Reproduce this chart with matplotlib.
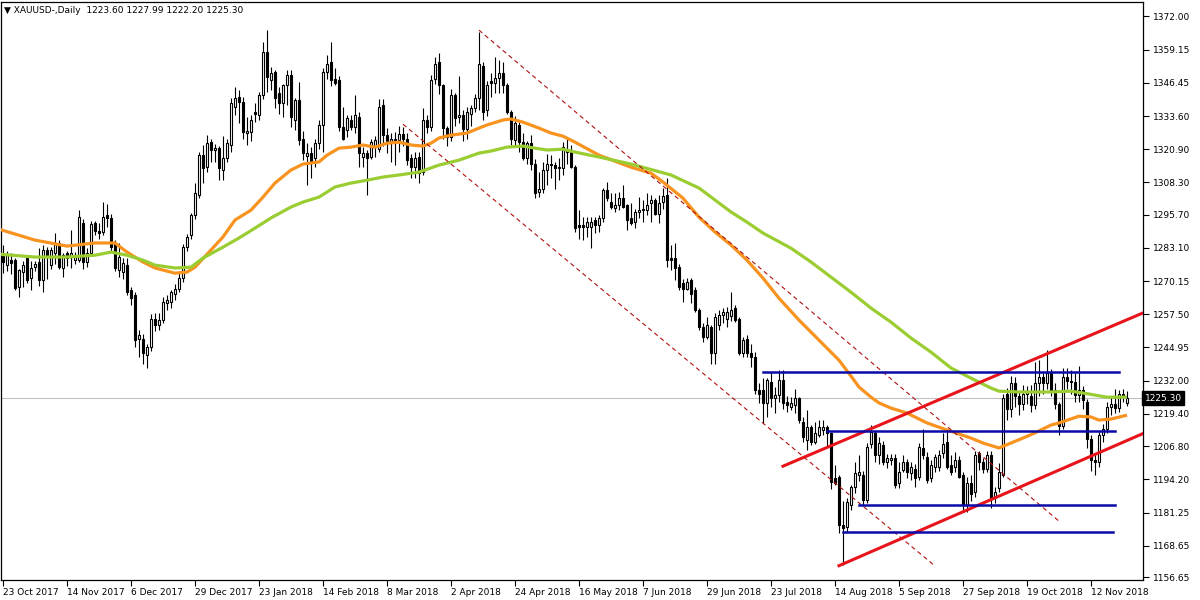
import matplotlib
matplotlib.use("Agg")
import matplotlib.pyplot as plt
import numpy as np

# XAUUSD daily candles, bar 0 = 23 Oct 2017, bar 281 = 23 Nov 2018
opens = [
    1280.0, 1276.4, 1278.3, 1278.3, 1268.1, 1273.8, 1279.0, 1271.3, 1275.5, 1277.5,
    1270.6, 1282.2, 1276.4, 1281.0, 1284.7, 1275.1, 1280.9, 1279.6, 1278.3, 1278.3,
    1292.4, 1277.5, 1281.0, 1292.4, 1289.5, 1289.0, 1295.6, 1294.3, 1284.7, 1274.5,
    1273.8, 1276.4, 1266.8, 1264.9, 1248.2, 1248.2, 1241.8, 1245.0, 1255.9, 1253.4,
    1255.3, 1261.7, 1262.3, 1265.5, 1267.4, 1271.3, 1283.4, 1288.0, 1295.6, 1303.3,
    1318.6, 1314.2, 1323.7, 1320.5, 1321.2, 1312.9, 1317.4, 1322.5, 1337.2, 1341.0,
    1339.1, 1327.0, 1327.6, 1335.3, 1334.0, 1341.7, 1358.3, 1347.4, 1350.6, 1342.3,
    1338.5, 1345.5, 1349.4, 1332.1, 1339.8, 1325.0, 1318.3, 1319.3, 1317.4, 1323.1,
    1330.2, 1350.6, 1354.5, 1348.0, 1347.4, 1329.5, 1328.2, 1332.1, 1329.5, 1333.4,
    1318.0, 1319.3, 1318.0, 1321.8, 1321.0, 1337.8, 1326.3, 1323.5, 1325.0, 1324.4,
    1326.9, 1325.0, 1317.4, 1314.2, 1318.0, 1312.2, 1332.1, 1329.5, 1348.0, 1354.5,
    1345.5, 1328.9, 1325.5, 1341.7, 1333.4, 1334.0, 1328.5, 1334.5, 1336.6, 1340.4,
    1353.0, 1335.9, 1347.0, 1346.2, 1348.1, 1350.0, 1345.5, 1335.3, 1324.4, 1330.2,
    1323.7, 1317.4, 1323.1, 1315.4, 1304.6, 1305.8, 1312.9, 1315.4, 1314.8, 1313.5,
    1313.5, 1319.9, 1319.9, 1314.2, 1291.8, 1291.8, 1291.1, 1291.1, 1293.7, 1291.8,
    1294.3, 1305.2, 1300.7, 1298.2, 1299.4, 1302.0, 1299.4, 1294.3, 1293.0, 1296.9,
    1297.5, 1297.5, 1300.1, 1301.4, 1296.2, 1300.7, 1303.3, 1279.0, 1279.0, 1275.8,
    1269.4, 1267.4, 1270.6, 1266.8, 1259.1, 1252.7, 1248.9, 1252.7, 1242.5, 1253.4,
    1257.2, 1255.9, 1257.0, 1259.8, 1255.9, 1242.5, 1248.2, 1242.5, 1241.2, 1228.4,
    1228.4, 1223.3, 1231.6, 1225.2, 1226.5, 1232.3, 1224.0, 1222.0, 1222.7, 1225.2,
    1216.3, 1209.2, 1214.3, 1208.6, 1211.1, 1213.0, 1214.3, 1211.8, 1194.5, 1195.0,
    1176.6, 1176.0, 1184.3, 1191.3, 1196.0, 1195.8, 1186.2, 1207.9, 1211.8, 1203.5,
    1207.3, 1200.9, 1201.5, 1202.2, 1192.6, 1197.7, 1200.9, 1196.4, 1198.3, 1195.0,
    1206.0, 1202.8, 1194.5, 1199.0, 1199.0, 1204.1, 1208.6, 1199.6, 1199.0, 1201.5,
    1195.8, 1184.3, 1192.6, 1189.4, 1204.1, 1200.9, 1198.3, 1203.5, 1187.5, 1190.7,
    1195.8, 1227.1, 1221.0, 1231.0, 1226.0, 1223.0, 1227.0, 1226.0, 1222.7, 1231.0,
    1233.5, 1231.0, 1235.0, 1228.5, 1223.0, 1214.5, 1233.5, 1232.0, 1231.5, 1226.5,
    1228.5, 1224.0, 1209.5, 1201.5, 1201.0, 1211.0, 1213.5, 1222.0, 1223.0, 1221.5,
    1227.0, 1223.6,
]
highs = [
    1284.1, 1282.0, 1281.0, 1279.0, 1275.0, 1278.0, 1280.0, 1278.0, 1278.0, 1283.0,
    1284.0, 1283.5, 1283.4, 1288.6, 1286.0, 1281.0, 1282.0, 1289.8, 1281.5, 1297.5,
    1294.0, 1283.0, 1293.5, 1293.5, 1292.5, 1300.5, 1300.0, 1296.0, 1286.0, 1285.0,
    1279.0, 1279.0, 1268.0, 1266.0, 1251.4, 1250.0, 1246.0, 1257.5, 1258.0, 1258.0,
    1264.0, 1265.0, 1267.0, 1269.0, 1274.0, 1284.5, 1288.5, 1296.5, 1307.8, 1320.0,
    1322.5, 1326.3, 1325.0, 1323.0, 1322.0, 1326.0, 1325.0, 1340.5, 1344.9, 1343.6,
    1341.0, 1333.4, 1334.0, 1338.5, 1343.0, 1362.1, 1366.6, 1352.5, 1351.5, 1344.9,
    1346.0, 1351.3, 1351.3, 1340.4, 1346.8, 1328.0, 1323.1, 1321.8, 1325.0, 1332.1,
    1352.0, 1357.0, 1362.2, 1351.9, 1349.0, 1337.2, 1334.0, 1334.0, 1341.7, 1335.0,
    1321.8, 1320.5, 1325.0, 1326.0, 1340.0, 1340.0, 1329.0, 1327.0, 1327.6, 1330.0,
    1329.5, 1327.0, 1319.0, 1320.0, 1320.0, 1336.6, 1334.0, 1349.4, 1356.4, 1357.7,
    1346.0, 1330.0, 1344.0, 1342.5, 1349.0, 1336.0, 1337.0, 1338.0, 1342.0, 1366.0,
    1354.5, 1347.0, 1350.0, 1356.4, 1355.1, 1354.5, 1346.5, 1336.0, 1333.5, 1331.5,
    1327.0, 1324.0, 1326.3, 1317.0, 1312.2, 1316.0, 1319.0, 1318.5, 1316.1, 1317.5,
    1323.7, 1325.0, 1322.5, 1315.0, 1297.5, 1295.0, 1295.0, 1295.0, 1295.0, 1295.6,
    1306.0, 1308.4, 1303.9, 1303.9, 1304.6, 1307.1, 1300.0, 1300.1, 1298.0, 1302.6,
    1301.4, 1303.9, 1303.3, 1302.0, 1303.3, 1306.0, 1309.7, 1284.0, 1284.7, 1277.0,
    1271.0, 1271.3, 1271.3, 1268.0, 1260.0, 1254.0, 1256.6, 1253.4, 1258.0, 1259.0,
    1260.0, 1260.5, 1266.0, 1261.0, 1256.6, 1248.9, 1249.5, 1246.3, 1243.0, 1231.0,
    1233.0, 1233.0, 1235.5, 1229.7, 1236.1, 1236.1, 1226.0, 1225.9, 1229.0, 1225.9,
    1218.0, 1220.7, 1215.0, 1216.3, 1216.9, 1216.9, 1215.0, 1212.4, 1199.6, 1195.8,
    1186.0, 1187.0, 1192.0, 1201.0, 1203.5, 1197.5, 1208.0, 1215.0, 1213.0, 1210.5,
    1209.0, 1204.0, 1204.0, 1204.0, 1201.0, 1203.5, 1202.0, 1201.0, 1200.0, 1208.0,
    1213.5, 1204.5, 1201.5, 1204.0, 1205.5, 1212.0, 1212.4, 1203.5, 1204.7, 1203.0,
    1197.0, 1195.0, 1196.0, 1205.0, 1205.0, 1202.5, 1205.0, 1205.0, 1191.3, 1200.3,
    1227.1, 1229.1, 1234.0, 1233.5, 1228.0, 1230.3, 1230.0, 1230.3, 1239.3, 1240.0,
    1235.0, 1243.8, 1236.5, 1231.0, 1224.0, 1237.0, 1237.0, 1236.0, 1235.0, 1237.5,
    1230.0, 1225.0, 1211.0, 1204.0, 1212.5, 1215.5, 1224.0, 1226.0, 1229.0, 1228.5,
    1229.0, 1227.99,
]
lows = [
    1273.2, 1274.0, 1273.0, 1266.8, 1264.2, 1268.0, 1269.4, 1266.8, 1274.0, 1268.5,
    1266.2, 1271.0, 1275.0, 1277.0, 1275.0, 1272.0, 1276.0, 1275.1, 1277.0, 1277.7,
    1274.8, 1275.5, 1280.0, 1288.0, 1286.6, 1288.0, 1291.0, 1281.5, 1274.0, 1272.0,
    1271.0, 1265.0, 1261.2, 1245.0, 1241.2, 1238.5, 1237.0, 1243.5, 1251.0, 1251.5,
    1254.0, 1259.0, 1260.0, 1263.0, 1266.0, 1270.0, 1282.0, 1286.5, 1294.0, 1302.0,
    1308.0, 1312.0, 1316.0, 1316.0, 1309.0, 1309.0, 1316.0, 1320.0, 1334.0, 1331.0,
    1325.0, 1322.5, 1324.0, 1331.5, 1332.0, 1340.0, 1343.0, 1343.6, 1336.6, 1334.6,
    1333.4, 1338.0, 1329.5, 1328.2, 1322.5, 1316.7, 1307.1, 1310.0, 1314.0, 1321.0,
    1320.0, 1348.0, 1345.0, 1345.5, 1328.0, 1324.4, 1325.7, 1328.2, 1327.0, 1314.0,
    1314.2, 1303.3, 1317.0, 1318.0, 1320.0, 1322.0, 1319.5, 1316.0, 1315.0, 1320.0,
    1322.0, 1315.0, 1309.7, 1309.7, 1307.8, 1311.0, 1327.0, 1328.0, 1346.0, 1342.0,
    1325.0, 1322.0, 1324.0, 1330.0, 1331.0, 1324.0, 1325.0, 1330.0, 1335.0, 1336.0,
    1332.0, 1333.5, 1341.0, 1342.3, 1342.3, 1342.3, 1334.5, 1322.5, 1322.5, 1319.9,
    1316.7, 1315.4, 1312.9, 1302.0, 1302.6, 1304.0, 1307.1, 1310.0, 1305.8, 1309.0,
    1311.0, 1315.4, 1313.5, 1289.2, 1286.6, 1286.0, 1287.3, 1282.8, 1288.6, 1289.0,
    1293.0, 1301.0, 1298.0, 1296.9, 1297.5, 1298.2, 1289.8, 1291.8, 1290.5, 1294.3,
    1293.0, 1295.6, 1293.0, 1295.6, 1292.4, 1298.0, 1275.5, 1274.5, 1270.6, 1266.8,
    1262.3, 1266.8, 1261.7, 1258.5, 1251.5, 1247.0, 1248.2, 1238.6, 1238.6, 1251.4,
    1254.0, 1252.7, 1255.0, 1254.6, 1241.8, 1241.2, 1241.2, 1237.4, 1227.0, 1223.3,
    1215.6, 1218.2, 1222.0, 1219.5, 1224.0, 1221.0, 1220.1, 1220.7, 1219.5, 1215.6,
    1208.5, 1205.4, 1207.3, 1207.9, 1210.5, 1211.1, 1207.0, 1190.5, 1191.9, 1173.5,
    1161.2, 1174.0, 1182.3, 1189.0, 1193.5, 1184.3, 1184.9, 1206.0, 1200.9, 1200.0,
    1199.6, 1198.5, 1199.6, 1190.7, 1191.0, 1197.0, 1194.5, 1194.0, 1191.3, 1194.0,
    1202.0, 1192.6, 1193.0, 1197.0, 1197.5, 1202.5, 1198.0, 1195.8, 1197.0, 1194.5,
    1181.7, 1181.7, 1186.0, 1187.5, 1197.7, 1196.5, 1197.0, 1183.0, 1185.0, 1189.4,
    1195.1, 1216.8, 1218.0, 1222.0, 1219.0, 1220.7, 1223.0, 1220.1, 1221.0, 1226.0,
    1227.0, 1229.0, 1226.0, 1221.0, 1211.0, 1213.5, 1229.0, 1227.0, 1224.0, 1224.0,
    1221.0, 1206.0, 1197.5, 1196.0, 1199.0, 1208.5, 1212.0, 1219.0, 1219.5, 1220.0,
    1224.0, 1222.2,
]
closes = [
    1277.7, 1280.2, 1277.4, 1267.5, 1274.5, 1276.4, 1270.6, 1275.1, 1276.8, 1270.6,
    1282.2, 1279.6, 1282.2, 1284.5, 1275.8, 1280.2, 1279.0, 1280.9, 1280.2, 1295.0,
    1277.5, 1281.0, 1292.0, 1289.5, 1288.6, 1295.0, 1294.3, 1283.5, 1275.2, 1279.6,
    1277.1, 1266.2, 1263.6, 1247.6, 1249.5, 1242.5, 1245.0, 1255.9, 1253.4, 1255.3,
    1262.3, 1263.0, 1266.2, 1267.4, 1271.3, 1283.4, 1287.3, 1295.6, 1303.9, 1318.6,
    1313.5, 1323.1, 1320.5, 1321.2, 1313.5, 1317.4, 1323.1, 1338.5, 1340.4, 1339.1,
    1327.6, 1328.0, 1332.1, 1334.6, 1341.7, 1358.3, 1348.7, 1350.0, 1340.4, 1338.5,
    1345.5, 1349.3, 1333.4, 1339.8, 1324.4, 1319.3, 1319.3, 1316.1, 1323.1, 1330.2,
    1350.6, 1353.8, 1347.4, 1346.4, 1329.5, 1325.0, 1332.7, 1329.5, 1334.0, 1319.3,
    1319.3, 1317.4, 1323.7, 1324.4, 1337.0, 1326.3, 1324.0, 1325.0, 1323.1, 1326.9,
    1325.0, 1316.7, 1314.2, 1317.4, 1311.6, 1332.1, 1329.5, 1347.4, 1353.8, 1345.5,
    1328.9, 1325.5, 1341.7, 1333.0, 1334.0, 1328.5, 1335.0, 1336.6, 1340.4, 1353.8,
    1335.3, 1345.5, 1346.2, 1348.1, 1350.0, 1345.5, 1335.3, 1325.0, 1330.8, 1323.7,
    1317.4, 1323.1, 1315.4, 1304.0, 1305.8, 1312.9, 1315.4, 1314.8, 1313.5, 1314.2,
    1321.8, 1320.6, 1314.2, 1290.5, 1291.1, 1291.1, 1293.0, 1293.0, 1291.8, 1294.3,
    1305.2, 1302.0, 1298.8, 1299.4, 1302.0, 1298.8, 1293.7, 1292.4, 1296.9, 1297.5,
    1297.9, 1299.4, 1301.4, 1296.2, 1300.1, 1302.9, 1278.5, 1278.3, 1275.1, 1268.1,
    1267.4, 1270.0, 1265.5, 1259.1, 1252.7, 1248.9, 1253.4, 1242.5, 1256.6, 1257.2,
    1258.5, 1258.5, 1259.1, 1255.3, 1242.5, 1247.6, 1242.5, 1241.2, 1228.4, 1227.1,
    1223.3, 1232.3, 1225.2, 1226.5, 1232.3, 1223.3, 1222.7, 1223.3, 1225.2, 1216.9,
    1210.5, 1214.3, 1208.6, 1211.8, 1214.3, 1214.3, 1211.8, 1193.2, 1192.6, 1176.6,
    1175.3, 1185.5, 1191.3, 1196.4, 1197.0, 1186.2, 1206.7, 1212.4, 1203.5, 1208.0,
    1200.9, 1202.2, 1202.2, 1191.9, 1197.1, 1200.9, 1197.1, 1199.0, 1194.5, 1206.7,
    1203.5, 1193.9, 1199.6, 1202.8, 1203.5, 1207.9, 1199.0, 1197.1, 1201.5, 1195.1,
    1184.3, 1192.6, 1188.7, 1203.5, 1200.9, 1198.3, 1203.5, 1187.0, 1189.4, 1197.1,
    1225.2, 1221.0, 1231.0, 1226.0, 1223.0, 1227.0, 1227.5, 1222.7, 1231.0, 1233.5,
    1231.0, 1235.0, 1228.5, 1223.0, 1214.5, 1233.5, 1232.0, 1231.5, 1226.5, 1228.5,
    1224.5, 1209.5, 1201.5, 1201.0, 1211.0, 1213.5, 1222.0, 1223.0, 1221.5, 1227.0,
    1226.0, 1225.3,
]

# date labels every 16 bars
date_labels = ["23 Oct 2017", "14 Nov 2017", "6 Dec 2017", "29 Dec 2017", "23 Jan 2018",
               "14 Feb 2018", "8 Mar 2018", "2 Apr 2018", "24 Apr 2018", "16 May 2018",
               "7 Jun 2018", "29 Jun 2018", "23 Jul 2018", "14 Aug 2018", "5 Sep 2018",
               "27 Sep 2018", "19 Oct 2018", "12 Nov 2018"]
price_ticks = [1372.00, 1359.15, 1346.45, 1333.60, 1320.90, 1308.30, 1295.70, 1283.10,
               1270.15, 1257.50, 1244.95, 1232.00, 1219.40, 1206.80, 1194.20, 1181.25,
               1168.65, 1156.65]

# moving averages (bar, price)
fast_ma_bar = [-1, 8, 16, 23, 28, 31, 35, 38, 43, 46, 48, 52, 55, 58, 62, 65, 68, 72, 75, 79,
               81, 84, 87, 90, 93, 96, 99, 102, 105, 107, 109, 112, 116, 119, 121, 125, 127,
               130, 134, 137, 140, 143, 149, 157, 162, 165, 170, 174, 178, 182, 186, 190,
               194, 199, 204, 209, 212, 214, 217, 219, 222, 226, 231, 236, 242, 245, 249,
               252, 255, 258, 262, 264, 269, 272, 274, 277, 281]
fast_ma = [1290.2, 1286.0, 1283.7, 1284.9, 1284.9, 1281.4, 1277.6, 1275.3, 1273.3, 1273.7,
           1275.6, 1282.2, 1287.2, 1293.7, 1297.5, 1302.5, 1307.9, 1312.9, 1315.2, 1316.0,
           1318.6, 1321.3, 1321.7, 1322.5, 1321.7, 1323.2, 1323.6, 1322.5, 1322.1, 1323.2,
           1325.2, 1326.3, 1327.1, 1329.0, 1330.2, 1332.1, 1332.5, 1331.3, 1329.0, 1327.1,
           1325.9, 1323.6, 1318.6, 1314.0, 1311.7, 1308.3, 1302.1, 1294.8, 1289.1, 1284.1,
           1278.3, 1271.4, 1263.7, 1255.3, 1247.6, 1239.9, 1233.8, 1229.6, 1225.7, 1223.5,
           1221.5, 1219.6, 1215.8, 1213.1, 1210.0, 1208.1, 1206.2, 1208.1, 1210.0, 1212.0,
           1215.0, 1215.8, 1218.4, 1218.1, 1216.9, 1217.3, 1218.8]
slow_ma_bar = [-1, 8, 16, 23, 27, 31, 35, 38, 43, 47, 50, 55, 59, 63, 67, 72, 75, 79, 83, 87,
               91, 95, 99, 104, 109, 114, 119, 122, 126, 130, 133, 136, 140, 143, 149, 157,
               167, 174, 178, 182, 186, 190, 197, 202, 207, 212, 217, 222, 227, 232, 237,
               242, 247, 249, 254, 262, 267, 270, 276, 281]
slow_ma = [1280.6, 1279.5, 1279.5, 1280.2, 1281.4, 1280.2, 1278.3, 1276.4, 1275.3, 1275.6,
           1279.1, 1283.3, 1286.8, 1290.6, 1294.5, 1298.7, 1300.6, 1302.5, 1306.4, 1307.9,
           1309.0, 1310.2, 1311.0, 1312.1, 1314.8, 1316.7, 1319.4, 1320.2, 1321.7, 1322.1,
           1321.3, 1320.6, 1320.9, 1319.8, 1317.9, 1315.2, 1311.0, 1306.0, 1301.4, 1296.8,
           1292.9, 1288.7, 1282.9, 1277.6, 1271.8, 1266.0, 1259.9, 1254.5, 1248.4, 1243.0,
           1236.9, 1233.0, 1229.2, 1228.0, 1227.7, 1227.7, 1228.0, 1227.3, 1225.7, 1225.7]

# drawn objects: (start bar, end bar), (start price, end price)
channel_top = ([119, 264], [1366.6, 1178.1])
channel_bottom = ([100, 233], [1330.5, 1160.9])
trend_upper = ([195, 286], [1199.2, 1258.7])
trend_lower = ([209, 286], [1161.0, 1212.4])
levels = [1235.5, 1212.8, 1184.3, 1174.0]
level_from = [190, 206, 214, 210]
level_to = [279, 278, 278, 277.5]
last_price = 1225.30

opens = np.array(opens); highs = np.array(highs)
lows = np.array(lows); closes = np.array(closes)
bars = np.arange(len(closes))

fig = plt.figure(figsize=(12, 6), dpi=100)
ax = fig.add_axes([0.0008, 0.0333, 0.9517, 0.9633])
ax.set_xlim(-0.5, 285)
ax.set_ylim(1155.5, 1377.4)

# current price line
ax.axhline(last_price, color="#c0c0c0", lw=0.8, zorder=1)

# candles
ax.vlines(bars, lows, highs, color="black", lw=0.8, zorder=3)
up = closes >= opens
body = np.maximum(np.abs(closes - opens), 0.3)
ax.bar(bars[up], body[up], bottom=opens[up], width=0.55, facecolor="white",
       edgecolor="black", linewidth=0.8, zorder=4)
ax.bar(bars[~up], body[~up], bottom=closes[~up], width=0.55, facecolor="black",
       edgecolor="black", linewidth=0.8, zorder=4)

# moving averages
ax.plot(fast_ma_bar, fast_ma, color="#f7931e", lw=2.3, zorder=5, solid_capstyle="butt")
ax.plot(slow_ma_bar, slow_ma, color="#9acd32", lw=2.3, zorder=5, solid_capstyle="butt")

# channel and trend lines
for xs, ys in (channel_top, channel_bottom):
    ax.plot(xs, ys, color="#b01010", lw=0.8, dashes=(4, 3), zorder=6)
for xs, ys in (trend_upper, trend_lower):
    ax.plot(xs, ys, color="#e8141c", lw=2.2, zorder=6)
for lvl, a, b in zip(levels, level_from, level_to):
    ax.plot([a, b], [lvl, lvl], color="#0a0aa8", lw=1.8, zorder=6)

# axes styling
for s in ax.spines.values():
    s.set_color("black")
    s.set_linewidth(0.9)
ax.yaxis.tick_right()
ax.set_yticks(price_ticks)
ax.set_yticklabels([f"{p:.2f}" for p in price_ticks])
ax.tick_params(axis="y", length=4, width=0.8, pad=3, labelsize=6.5)
ax.set_xticks(np.arange(len(date_labels)) * 16)
ax.set_xticklabels(date_labels)
ax.tick_params(axis="x", length=4, width=0.8, pad=2, labelsize=6.5)
for lbl in ax.get_xticklabels():
    lbl.set_horizontalalignment("left")

# last price box on the axis
ax.text(1.0015, last_price, f"{last_price:.2f}", transform=ax.get_yaxis_transform(),
        ha="left", va="center", fontsize=6.5, color="white",
        bbox=dict(facecolor="black", edgecolor="black", boxstyle="square,pad=0.25"))

# header
ax.text(0.003, 0.993, "\u25BC XAUUSD-,Daily  1223.60 1227.99 1222.20 1225.30",
        transform=ax.transAxes, ha="left", va="top", fontsize=6.5)

fig.savefig("out.png", dpi=100, facecolor="white")
